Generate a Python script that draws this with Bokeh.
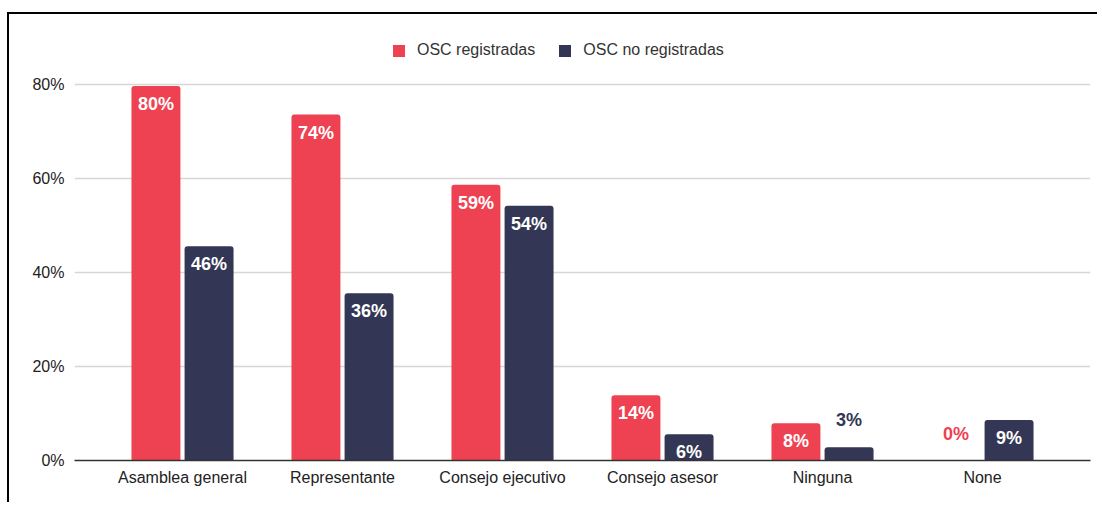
from bokeh.plotting import figure
from bokeh.models import (ColumnDataSource, FactorRange, Range1d, FixedTicker,
                          PrintfTickFormatter, Legend, LegendItem)
from bokeh.transform import dodge
from bokeh.core.properties import value
from bokeh.embed import file_html
from bokeh.resources import INLINE

categories = ["Asamblea general", "Representante", "Consejo ejecutivo",
              "Consejo asesor", "Ninguna", "None"]
registradas = [79.7, 73.6, 58.7, 13.9, 7.9, 0.0]
no_registradas = [45.6, 35.6, 54.2, 5.6, 2.8, 8.6]
series_names = ["OSC registradas", "OSC no registradas"]
y_ticks = [0, 20, 40, 60, 80]

RED = "#ee4152"
NAVY = "#333654"
FONT = "Liberation Sans"

p = figure(x_range=FactorRange(*categories, range_padding=0.175,
                               range_padding_units="absolute"),
           y_range=Range1d(0, 91.5),
           width=1090, height=490, output_backend="svg", toolbar_location=None,
           min_border_left=65, min_border_right=9, min_border_top=16,
           min_border_bottom=44,
           styles={"margin-left": "7px", "margin-top": "12px",
                   "border-left": "2px solid #000", "border-top": "2px solid #000"})
p.outline_line_color = None
p.xgrid.grid_line_color = None
p.ygrid.grid_line_color = "#d6d6d6"
p.ygrid.grid_line_width = 1.5
p.yaxis.ticker = FixedTicker(ticks=y_ticks)
p.yaxis.formatter = PrintfTickFormatter(format="%d%%")
p.yaxis.axis_line_color = None
p.yaxis.major_tick_line_color = None
p.yaxis.minor_tick_line_color = None
p.yaxis.major_label_standoff = 4
p.xaxis.axis_line_color = "#333333"
p.xaxis.axis_line_width = 1.5
p.xaxis.major_tick_line_color = None
p.xaxis.minor_tick_line_color = None
p.xaxis.major_label_standoff = 2
for ax in (p.xaxis, p.yaxis):
    ax.major_label_text_font = FONT
    ax.major_label_text_font_size = "16px"
    ax.major_label_text_color = "#222222"

offset = 0.166
width = 0.306
items = []
for vals, color, off, name in [(registradas, RED, -offset, series_names[0]),
                               (no_registradas, NAVY, offset, series_names[1])]:
    inside = [v >= 5 for v in vals]
    src = ColumnDataSource(dict(
        cat=categories, val=vals,
        lbl=["%d%%" % round(v) for v in vals],
        tcol=["white" if i else color for i in inside],
        yoff=[18 if i else -17 for i in inside],
        base=["middle" if i else "bottom" for i in inside],
    ))
    r = p.vbar(x=dodge("cat", off, range=p.x_range), top="val", width=width,
               source=src, fill_color=color, line_color=None,
               border_radius=(3, 3, 0, 0))
    p.text(x=dodge("cat", off, range=p.x_range), y="val", text="lbl", source=src,
           text_color="tcol", y_offset="yoff", text_baseline="base",
           text_align="center", text_font=value(FONT),
           text_font_size="18px", text_font_style="bold")
    items.append(LegendItem(label=name, renderers=[r]))

legend = Legend(items=items, orientation="horizontal", location=(317, 401),
                glyph_width=15, glyph_height=15, label_standoff=11, spacing=22,
                padding=0, margin=0, border_line_color=None,
                background_fill_alpha=0,
                label_text_font=FONT, label_text_font_size="16px",
                label_text_color="#333333")
p.add_layout(legend)

open("out.html", "w").write(file_html(p, INLINE))
